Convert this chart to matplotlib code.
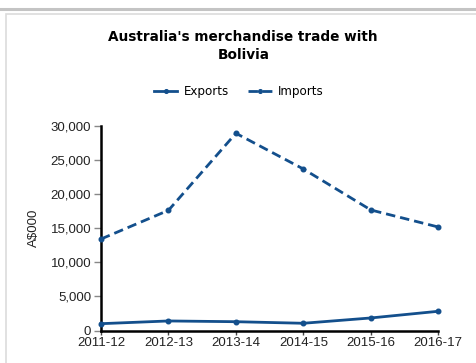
import matplotlib
matplotlib.use("Agg")
import matplotlib.pyplot as plt
from matplotlib.lines import Line2D
from matplotlib.patches import Rectangle
from matplotlib.ticker import FuncFormatter

# Australia's merchandise trade with Bolivia, A$000
years = ["2011-12", "2012-13", "2013-14", "2014-15", "2015-16", "2016-17"]
exports = [1000, 1400, 1290, 1060, 1840, 2820]
imports = [13420, 17630, 28930, 23690, 17680, 15180]

blue = "#134f8c"

fig = plt.figure(figsize=(4.77, 3.63), dpi=100)

# panel frame
fig.add_artist(Line2D([0, 1], [1 - 9 / 363, 1 - 9 / 363], transform=fig.transFigure,
                      color="#c4c4c4", linewidth=2.2))
fig.add_artist(Rectangle((6 / 477, -0.1), 1.2, 1 - 14 / 363 + 0.1, transform=fig.transFigure,
                         fill=False, edgecolor="#dcdcdc", linewidth=1.2))

ax = fig.add_axes([101 / 477, 1 - 330.5 / 363, 337.3 / 477, 204.5 / 363])

x = list(range(len(years)))
ax.plot(x, exports, color=blue, linewidth=2, marker="o", markersize=3.3,
        label="Exports", clip_on=False, zorder=3)
ax.plot(x, imports, color=blue, linewidth=2, marker="o", markersize=3.3,
        linestyle=(0, (3.4, 1.8)), label="Imports", clip_on=False, zorder=3)

ax.set_xlim(0, len(years) - 1)
ax.set_ylim(0, 30000)
ax.set_xticks(x)
ax.set_xticklabels(years)
ax.set_yticks(range(0, 30001, 5000))
ax.yaxis.set_major_formatter(FuncFormatter(lambda v, p: f"{int(v):,}"))

for s in ["top", "right"]:
    ax.spines[s].set_visible(False)
for s in ["left", "bottom"]:
    ax.spines[s].set_linewidth(1.8)
    ax.spines[s].set_color("black")

tick_font = "Liberation Sans"
ax.tick_params(axis="y", length=5, width=1, color="#888888", pad=2, labelsize=9.5,
               labelcolor="#222222")
ax.tick_params(axis="x", length=3, width=1, color="#444444", pad=2, labelsize=9.5,
               labelcolor="#222222")
for lab in ax.get_xticklabels() + ax.get_yticklabels():
    lab.set_fontfamily(tick_font)

ax.set_ylabel("A$000", fontsize=9.5, fontfamily=tick_font, color="#222222")
ax.yaxis.set_label_coords(-61 / 337.3, 0.5)

fig.text(0.51, 1 - 46 / 363, "Australia's merchandise trade with\nBolivia",
         ha="center", va="center", fontsize=9.8, fontweight="bold",
         linespacing=1.45, fontfamily="DejaVu Sans")

leg = fig.legend(loc="center", bbox_to_anchor=(0.5, 1 - 92 / 363), ncol=2, frameon=False,
                 handlelength=2.0, handletextpad=0.5, columnspacing=1.6, markerscale=0.8,
                 prop={"family": "DejaVu Sans", "size": 8.6})

fig.savefig("out.png", dpi=100)
